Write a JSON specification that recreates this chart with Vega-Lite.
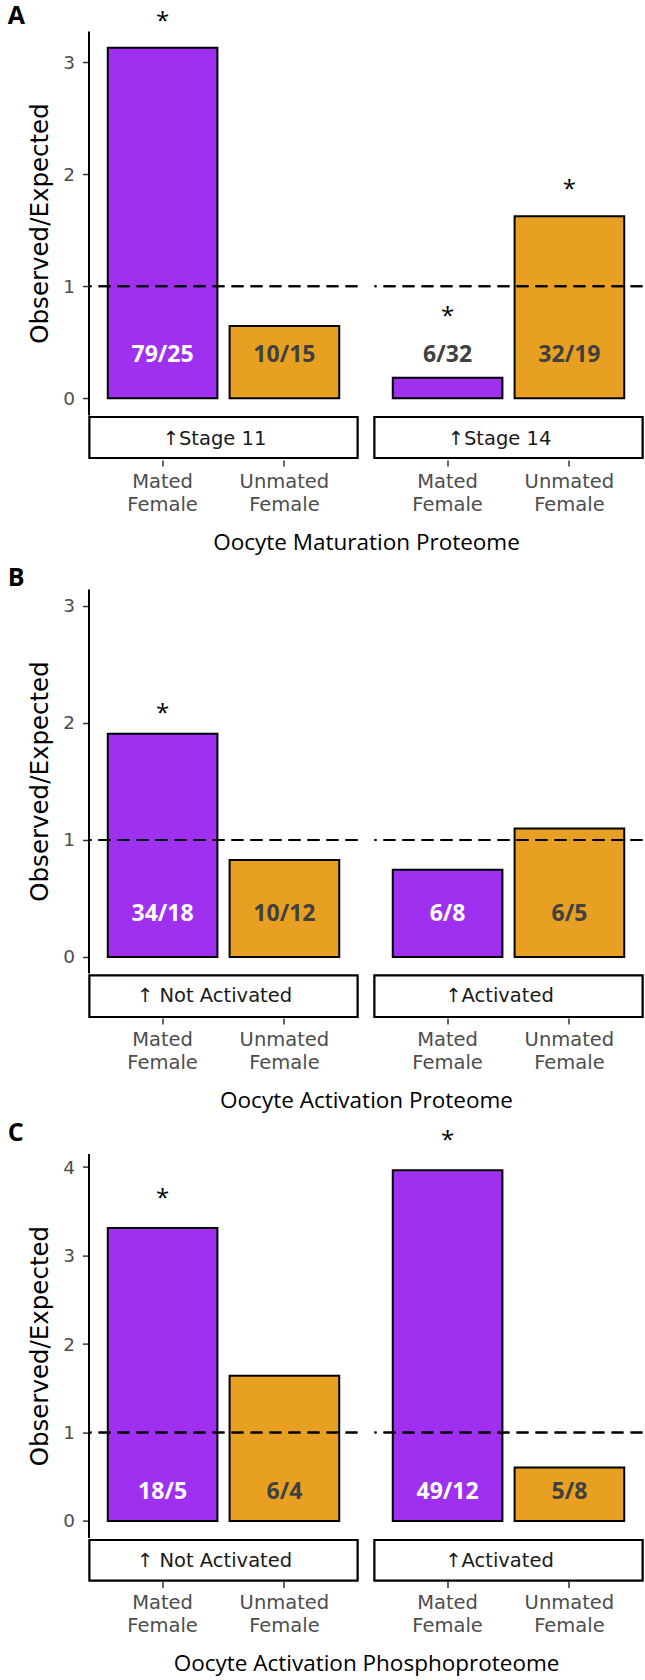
{
  "$schema": "https://vega.github.io/schema/vega-lite/v6.json",
  "background": "white",
  "padding": {"left": 7.5, "top": 3, "right": 0, "bottom": 0},
  "spacing": 12,
  "config": {
    "view": {"stroke": null},
    "font": "DejaVu Sans",
    "axisY": {"grid": false, "format": "d", "domainColor": "black", "domainWidth": 2, "tickColor": "#333333", "tickWidth": 1.5, "tickSize": 6, "labelColor": "#4d4d4d", "labelFont": "DejaVu Sans", "labelFontSize": 18.5, "labelPadding": 8, "titleFont": "DejaVu Sans", "titleFontSize": 24.5, "titleFontWeight": "normal", "titleColor": "black", "titlePadding": 10},
    "axisX": {"grid": false, "domain": false, "offset": 0, "tickColor": "#333333", "tickWidth": 1.5, "tickSize": 6, "labelColor": "#4d4d4d", "labelFont": "DejaVu Sans", "labelFontSize": 19.5, "labelLineHeight": 23, "labelPadding": 6, "labelAngle": 0, "labelExpr": "split(datum.label, ' ')", "title": null},
    "header": {"labels": false, "titleOrient": "bottom", "titleFont": "Open Sans", "titleFontSize": 22.5, "titleFontWeight": "normal", "titleColor": "black", "titlePadding": 7.5},
    "title": {"font": "Open Sans", "fontWeight": "bold", "fontSize": 25, "color": "black", "anchor": "start", "frame": "bounds", "dx": -20}
  },
  "vconcat": [
    {
      "title": {"text": "A", "offset": -19},
      "data": {"values": [
        {"stage": "↑Stage 11", "sex": "Mated Female", "ratio": 3.13, "label": "79/25", "sig": true},
        {"stage": "↑Stage 11", "sex": "Unmated Female", "ratio": 0.645, "label": "10/15", "sig": false},
        {"stage": "↑Stage 14", "sex": "Mated Female", "ratio": 0.184, "label": "6/32", "sig": true},
        {"stage": "↑Stage 14", "sex": "Unmated Female", "ratio": 1.625, "label": "32/19", "sig": true}
      ]},
      "facet": {"column": {"field": "stage", "type": "nominal", "sort": ["↑Stage 11", "↑Stage 14"], "header": {"title": "Oocyte Maturation Proteome"}}},
      "spacing": 15,
      "spec": {
        "width": 268,
        "height": 384,
        "layer": [
          {"mark": {"type": "bar", "stroke": "black", "strokeWidth": 2},
           "encoding": {
             "x": {"field": "sex", "type": "nominal", "sort": ["Mated Female", "Unmated Female"], "scale": {"paddingInner": 0.1, "paddingOuter": 0.15}},
             "y": {"field": "ratio", "type": "quantitative", "scale": {"domain": [-0.149, 3.28], "nice": false, "zero": false}, "axis": {"values": [0, 1, 2, 3], "title": "Observed/Expected"}},
             "y2": {"datum": 0},
             "fill": {"field": "sex", "type": "nominal", "scale": {"domain": ["Mated Female", "Unmated Female"], "range": ["#A030F0", "#E8A023"]}, "legend": null}
           }},
          {"mark": {"type": "rule", "strokeDash": [12, 7], "strokeWidth": 2, "color": "black"},
           "encoding": {"y": {"datum": 1}}},
          {"mark": {"type": "text", "font": "Open Sans", "fontWeight": "bold", "fontSize": 23, "baseline": "middle"},
           "encoding": {
             "x": {"field": "sex", "type": "nominal"},
             "y": {"datum": 0.387},
             "text": {"field": "label"},
             "color": {"condition": {"test": "datum.sex == 'Mated Female' && datum.ratio > 0.5", "value": "white"}, "value": "#404040"}
           }},
          {"transform": [{"filter": "datum.sig && datum.ratio > 0.5"}],
           "mark": {"type": "text", "font": "Open Sans", "fontSize": 24, "baseline": "middle", "dy": -26, "color": "black"},
           "encoding": {"x": {"field": "sex", "type": "nominal"}, "y": {"field": "ratio", "type": "quantitative"}, "text": {"value": "*"}}},
          {"transform": [{"filter": "datum.sig && datum.ratio <= 0.5"}],
           "mark": {"type": "text", "font": "Open Sans", "fontSize": 24, "baseline": "middle", "dy": -38, "color": "black"},
           "encoding": {"x": {"field": "sex", "type": "nominal"}, "y": {"datum": 0.387}, "text": {"value": "*"}}},
          {"mark": {"type": "rect", "fill": "white", "stroke": "black", "strokeWidth": 2},
           "encoding": {"y": {"datum": -0.167}, "y2": {"datum": -0.533}}},
          {"transform": [{"filter": "datum.sex == 'Mated Female'"}],
           "mark": {"type": "text", "font": "DejaVu Sans", "fontSize": 19.5, "baseline": "middle", "dx": -9, "color": "#1a1a1a"},
           "encoding": {"y": {"datum": -0.363}, "text": {"field": "stage"}}}
        ]
      }
    },
    {
      "spacing": 8.6,
      "vconcat": [
        {
          "title": {"text": "B", "offset": -2},
          "data": {"values": [
            {"stage": "↑ Not Activated", "sex": "Mated Female", "ratio": 1.907, "label": "34/18", "sig": true},
            {"stage": "↑ Not Activated", "sex": "Unmated Female", "ratio": 0.829, "label": "10/12", "sig": false},
            {"stage": "↑Activated", "sex": "Mated Female", "ratio": 0.746, "label": "6/8", "sig": false},
            {"stage": "↑Activated", "sex": "Unmated Female", "ratio": 1.098, "label": "6/5", "sig": false}
          ]},
          "facet": {"column": {"field": "stage", "type": "nominal", "sort": ["↑ Not Activated", "↑Activated"], "header": {"title": "Oocyte Activation Proteome"}}},
          "spacing": 15,
          "spec": {
            "width": 268,
            "height": 384,
            "layer": [
              {"mark": {"type": "bar", "stroke": "black", "strokeWidth": 2},
               "encoding": {
                 "x": {"field": "sex", "type": "nominal", "sort": ["Mated Female", "Unmated Female"], "scale": {"paddingInner": 0.1, "paddingOuter": 0.15}},
                 "y": {"field": "ratio", "type": "quantitative", "scale": {"domain": [-0.137, 3.145], "nice": false, "zero": false}, "axis": {"values": [0, 1, 2, 3], "title": "Observed/Expected"}},
                 "y2": {"datum": 0},
                 "fill": {"field": "sex", "type": "nominal", "scale": {"domain": ["Mated Female", "Unmated Female"], "range": ["#A030F0", "#E8A023"]}, "legend": null}
               }},
              {"mark": {"type": "rule", "strokeDash": [12, 7], "strokeWidth": 2, "color": "black"},
               "encoding": {"y": {"datum": 1}}},
              {"mark": {"type": "text", "font": "Open Sans", "fontWeight": "bold", "fontSize": 23, "baseline": "middle"},
               "encoding": {
                 "x": {"field": "sex", "type": "nominal"},
                 "y": {"datum": 0.37},
                 "text": {"field": "label"},
                 "color": {"condition": {"test": "datum.sex == 'Mated Female' && datum.ratio > 0.5", "value": "white"}, "value": "#404040"}
               }},
              {"transform": [{"filter": "datum.sig && datum.ratio > 0.5"}],
               "mark": {"type": "text", "font": "Open Sans", "fontSize": 24, "baseline": "middle", "dy": -20, "color": "black"},
               "encoding": {"x": {"field": "sex", "type": "nominal"}, "y": {"field": "ratio", "type": "quantitative"}, "text": {"value": "*"}}},
              {"mark": {"type": "rect", "fill": "white", "stroke": "black", "strokeWidth": 2},
               "encoding": {"y": {"datum": -0.159}, "y2": {"datum": -0.512}}},
              {"transform": [{"filter": "datum.sex == 'Mated Female'"}],
               "mark": {"type": "text", "font": "DejaVu Sans", "fontSize": 19.5, "baseline": "middle", "dx": -9, "color": "#1a1a1a"},
               "encoding": {"y": {"datum": -0.336}, "text": {"field": "stage"}}}
            ]
          }
        },
        {
          "title": {"text": "C", "offset": -16.6},
          "data": {"values": [
            {"stage": "↑ Not Activated", "sex": "Mated Female", "ratio": 3.31, "label": "18/5", "sig": true},
            {"stage": "↑ Not Activated", "sex": "Unmated Female", "ratio": 1.64, "label": "6/4", "sig": false},
            {"stage": "↑Activated", "sex": "Mated Female", "ratio": 3.965, "label": "49/12", "sig": true},
            {"stage": "↑Activated", "sex": "Unmated Female", "ratio": 0.603, "label": "5/8", "sig": false}
          ]},
          "facet": {"column": {"field": "stage", "type": "nominal", "sort": ["↑ Not Activated", "↑Activated"], "header": {"title": "Oocyte Activation Phosphoproteome"}}},
          "spacing": 15,
          "spec": {
            "width": 268,
            "height": 384,
            "layer": [
              {"mark": {"type": "bar", "stroke": "black", "strokeWidth": 2},
               "encoding": {
                 "x": {"field": "sex", "type": "nominal", "sort": ["Mated Female", "Unmated Female"], "scale": {"paddingInner": 0.1, "paddingOuter": 0.15}},
                 "y": {"field": "ratio", "type": "quantitative", "scale": {"domain": [-0.188, 4.152], "nice": false, "zero": false}, "axis": {"values": [0, 1, 2, 3, 4], "title": "Observed/Expected"}},
                 "y2": {"datum": 0},
                 "fill": {"field": "sex", "type": "nominal", "scale": {"domain": ["Mated Female", "Unmated Female"], "range": ["#A030F0", "#E8A023"]}, "legend": null}
               }},
              {"mark": {"type": "rule", "strokeDash": [12, 7], "strokeWidth": 2, "color": "black"},
               "encoding": {"y": {"datum": 1}}},
              {"mark": {"type": "text", "font": "Open Sans", "fontWeight": "bold", "fontSize": 23, "baseline": "middle"},
               "encoding": {
                 "x": {"field": "sex", "type": "nominal"},
                 "y": {"datum": 0.33},
                 "text": {"field": "label"},
                 "color": {"condition": {"test": "datum.sex == 'Mated Female' && datum.ratio > 0.5", "value": "white"}, "value": "#404040"}
               }},
              {"transform": [{"filter": "datum.sig && datum.ratio > 0.5"}],
               "mark": {"type": "text", "font": "Open Sans", "fontSize": 24, "baseline": "middle", "dy": -29, "color": "black"},
               "encoding": {"x": {"field": "sex", "type": "nominal"}, "y": {"field": "ratio", "type": "quantitative"}, "text": {"value": "*"}}},
              {"mark": {"type": "rect", "fill": "white", "stroke": "black", "strokeWidth": 2},
               "encoding": {"y": {"datum": -0.214}, "y2": {"datum": -0.673}}},
              {"transform": [{"filter": "datum.sex == 'Mated Female'"}],
               "mark": {"type": "text", "font": "DejaVu Sans", "fontSize": 19.5, "baseline": "middle", "dx": -9, "color": "#1a1a1a"},
               "encoding": {"y": {"datum": -0.448}, "text": {"field": "stage"}}}
            ]
          }
        }
      ]
    }
  ]
}
